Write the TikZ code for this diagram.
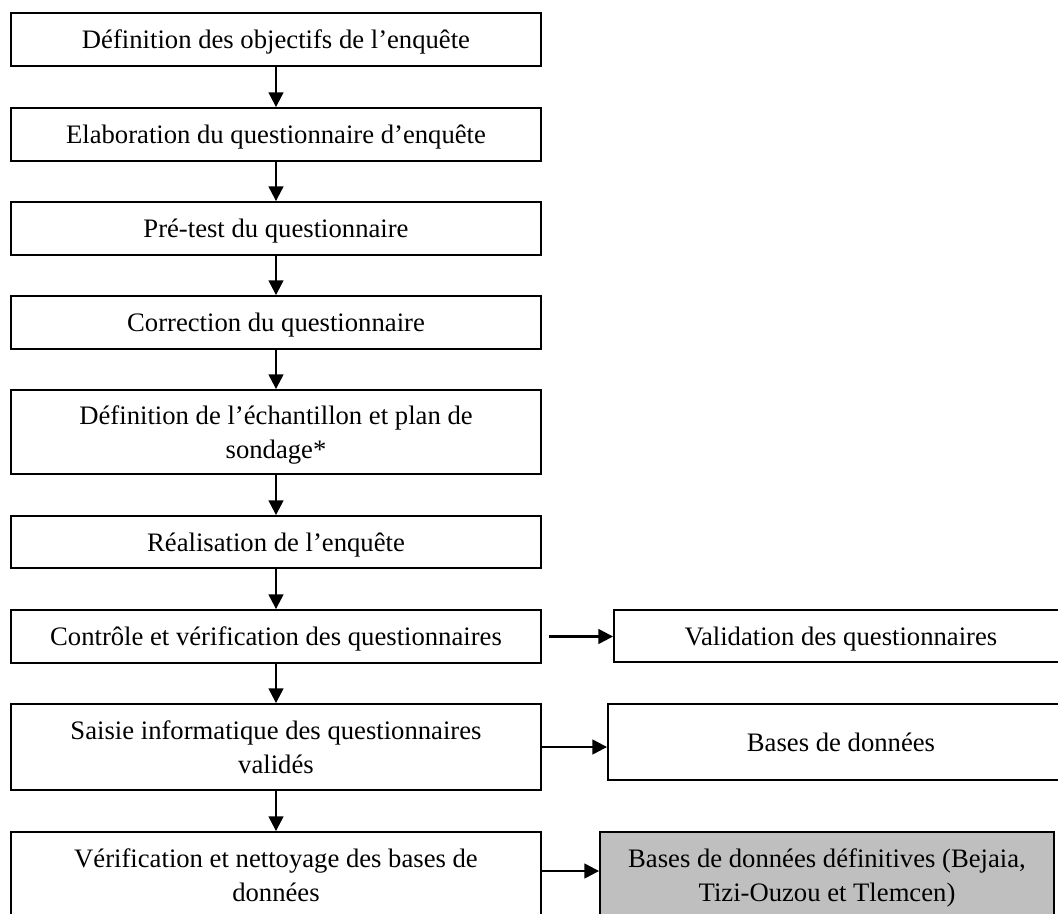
\documentclass[tikz,border=0pt]{standalone}
\usepackage{fontspec}
\setmainfont{Liberation Serif}
\usetikzlibrary{arrows.meta}
\definecolor{boxgray}{RGB}{191,191,191}
\begin{document}
\begin{tikzpicture}[x=0.75pt,y=-0.75pt,
  box/.style={draw=black, line width=1.4pt, rectangle, inner sep=0pt, align=center,
    font=\fontsize{20}{25.5}\selectfont, text depth=0pt},
  leftbox/.style={box, minimum width=397.5pt},
  flow/.style={line width=1.7pt, -{Triangle[width=11pt,length=11pt]}}]
\useasboundingbox (0,0) rectangle (1058,914);
\clip (0,0) rectangle (1058,914);
\node[leftbox, minimum height=39.75pt] (b1) at (276,39.5) {Définition des objectifs de l’enquête};
\node[leftbox, minimum height=39.75pt] (b2) at (276,134.5) {Elaboration du questionnaire d’enquête};
\node[leftbox, minimum height=39.75pt] (b3) at (276,228.5) {Pré-test du questionnaire};
\node[leftbox, minimum height=39.75pt] (b4) at (276,322.5) {Correction du questionnaire};
\node[leftbox, minimum height=63pt] (b5) at (276,432) {Définition de l’échantillon et plan de\\sondage*};
\node[leftbox, minimum height=39pt] (b6) at (276,542) {Réalisation de l’enquête};
\node[leftbox, minimum height=39.75pt] (b7) at (276,636.5) {Contrôle et vérification des questionnaires};
\node[leftbox, minimum height=64.5pt] (b8) at (276,747) {Saisie informatique des questionnaires\\validés};
\node[leftbox, minimum height=64.5pt] (b9) at (276,875) {Vérification et nettoyage des bases de\\données};
\node[box, minimum width=340.5pt, minimum height=39pt] (r7) at (841,636) {Validation des questionnaires};
\node[box, minimum width=349.5pt, minimum height=57pt] (r8) at (841,742) {Bases de données};
\node[box, fill=boxgray, minimum width=340.5pt, minimum height=64.5pt] (g) at (827,875) {Bases de données définitives (Bejaia,\\Tizi-Ouzou et Tlemcen)};
\draw[flow] (b1.south) -- (b2.north);
\draw[flow] (b2.south) -- (b3.north);
\draw[flow] (b3.south) -- (b4.north);
\draw[flow] (b4.south) -- (b5.north);
\draw[flow] (b5.south) -- (b6.north);
\draw[flow] (b6.south) -- (b7.north);
\draw[flow] (b7.south) -- (b8.north);
\draw[flow] (b8.south) -- (b9.north);
\draw[flow] ([xshift=5pt]b7.east) -- (b7.east -| r7.west);
\draw[flow] (b8.east) -- (b8.east -| r8.west);
\draw[flow] ([yshift=3pt]b9.east) -- ([yshift=3pt]b9.east -| g.west);
\end{tikzpicture}
\end{document}
